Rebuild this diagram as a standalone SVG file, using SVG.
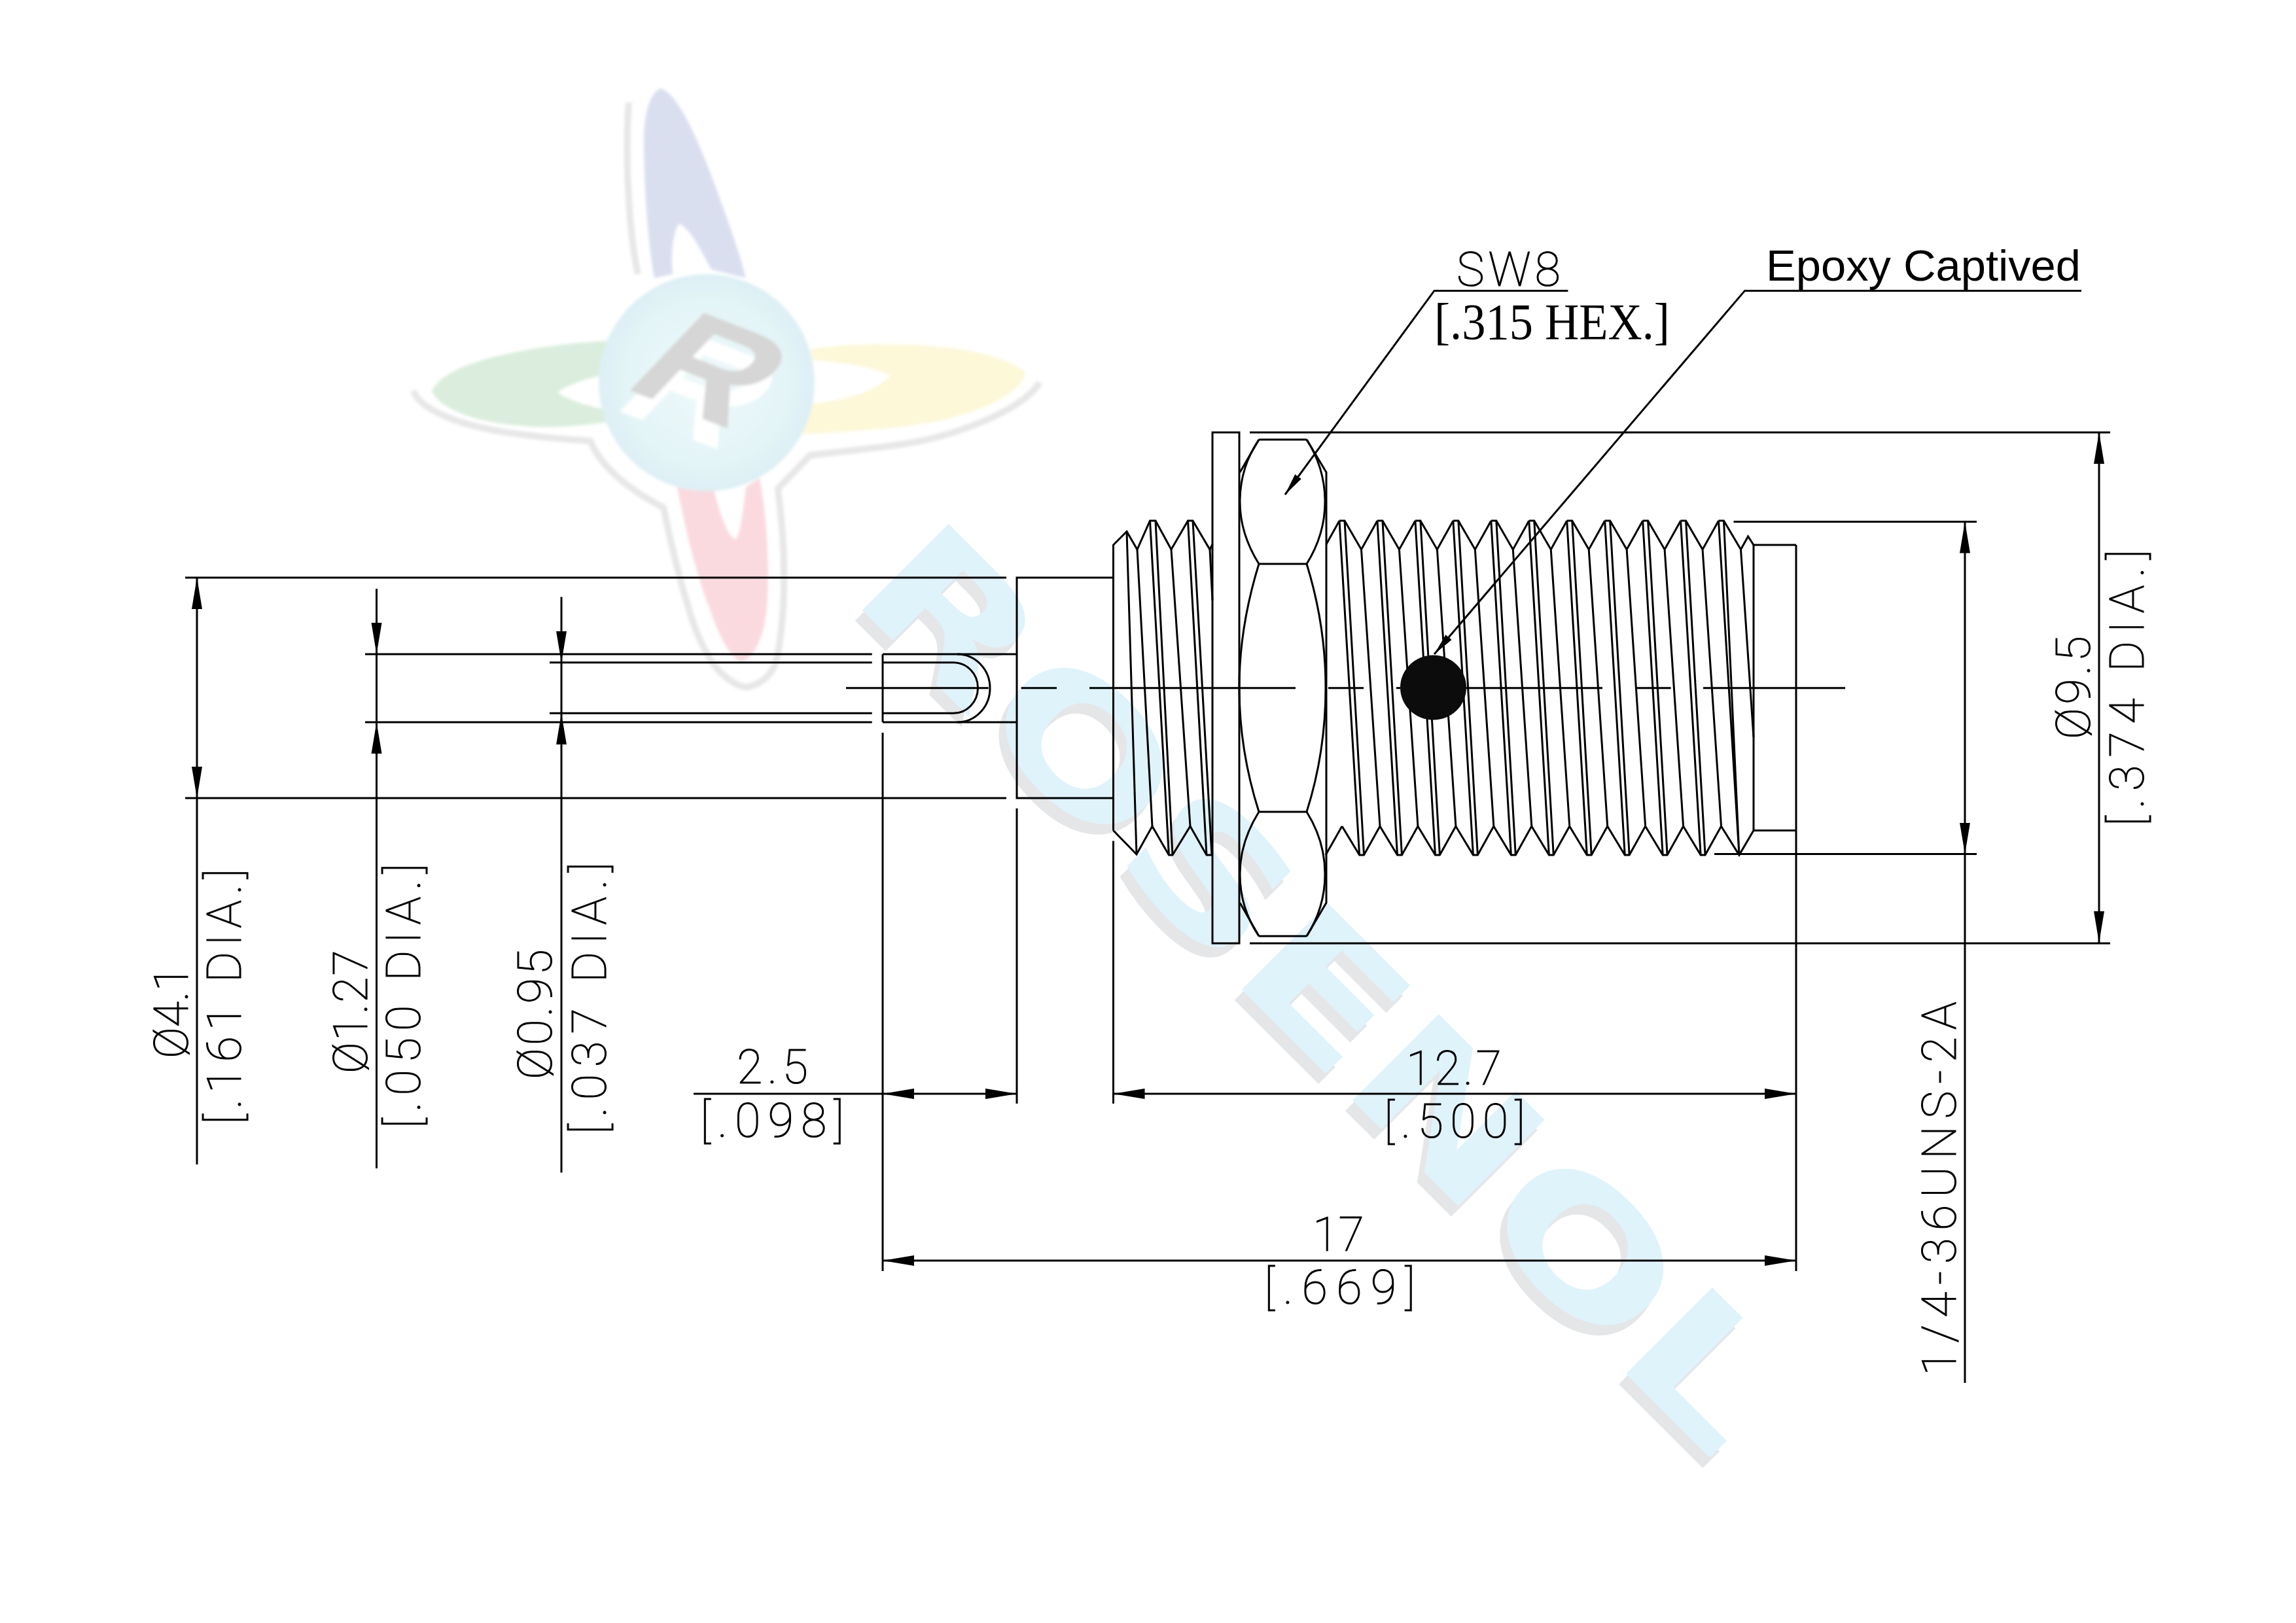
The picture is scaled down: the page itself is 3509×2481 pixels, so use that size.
<svg xmlns="http://www.w3.org/2000/svg" width="3509" height="2481" viewBox="0 0 3509 2481">
<style>
.l{fill:none;stroke:#000;stroke-width:3;stroke-linejoin:miter}
.d{fill:none;stroke:#000;stroke-width:3}
.a{marker-end:url(#ah);marker-start:url(#ah)}
.e{marker-end:url(#ah)}
.cad{font-family:"Roboto","Liberation Sans",sans-serif;font-weight:100;font-size:72px;fill:#000;stroke:#000;stroke-width:1.1}
.wm{font-family:"DejaVu Sans",sans-serif;font-weight:700;font-size:256px}
.lr{font-family:"Liberation Sans",sans-serif;font-weight:700;font-size:240px}
</style>
<defs>
<marker id="ah" markerUnits="userSpaceOnUse" markerWidth="50" markerHeight="18" refX="48" refY="9" orient="auto-start-reverse"><path d="M48 9L0 1V17Z" fill="#000"/></marker>
<marker id="as" markerUnits="userSpaceOnUse" markerWidth="36" markerHeight="14" refX="34" refY="7" orient="auto"><path d="M34 7L0 1V13Z" fill="#000"/></marker>
<radialGradient id="ball" cx="50%" cy="50%" r="52%"><stop offset="0" stop-color="#eef9fa"/><stop offset=".75" stop-color="#e3f4f7"/><stop offset="1" stop-color="#dceff4"/></radialGradient>
<filter id="soft" x="-5%" y="-5%" width="110%" height="110%"><feGaussianBlur stdDeviation="2"/></filter>
<g id="pitch" class="l"><path d="M2047 796H2055L2080.5 840L2105 796M2047 796L2077.6 1307M2055 796L2084.5 1307M2080.5 840L2109 1263M2051 1263L2077.6 1307H2084.5L2109 1263"/></g>
</defs>
<rect width="3509" height="2481" fill="#fff"/>
<g id="watermark-logo" filter="url(#soft)">
<g fill="none" stroke="#e7e7e7" stroke-width="10"><path d="M961 157C955 230 960 350 975 419"/><path d="M632 597C640 625 700 650 775 661C820 668 870 672 902 674C915 705 945 740 1014 776C1025 830 1040 890 1056 942C1070 985 1090 1020 1105 1031C1120 1045 1135 1052 1144 1050C1165 1045 1180 1030 1186 1012C1200 950 1203 850 1189 750"/><path d="M1186 750L1238 696C1290 690 1330 686 1372 680C1450 670 1560 630 1589 585"/></g>
<path d="M1010 135C1040 145 1075 235 1091 279C1110 330 1130 385 1140 425L1087 412C1070 380 1055 350 1038 342C1028 355 1025 390 1028 419L1000 425C990 370 984 280 984 215C984 170 995 140 1010 135Z" fill="#dadff0"/>
<path d="M1035 744C1045 800 1065 880 1084 929C1098 970 1115 1005 1133 1012C1155 1005 1168 970 1172 929C1177 870 1172 790 1161 731L1140 744C1135 790 1130 824 1123 824C1112 820 1098 780 1091 747Z" fill="#fadadf"/>
<path d="M660 597C675 570 720 550 810 534C850 527 890 523 930 521L916 575C890 580 865 590 852 600C870 612 900 622 930 626L930 645C890 650 850 655 810 652C730 648 670 625 660 597Z" fill="#dbeedd"/>
<path d="M1568 569C1530 540 1450 527 1372 527C1320 525 1280 528 1238 534L1242 550C1290 555 1335 560 1361 575C1335 600 1290 612 1242 617L1221 664C1300 660 1380 655 1442 642C1510 625 1560 600 1568 569Z" fill="#fdf8d8"/>
<ellipse cx="1080" cy="585" rx="165" ry="166" fill="url(#ball)"/>
<text class="lr" fill="#fff" transform="matrix(.98 .38 -.685 .72 932 623)">R</text>
<text class="lr" fill="#d6d6d6" transform="matrix(.98 .38 -.685 .72 947 591)">R</text>
</g>
<g id="watermark-text">
<text class="wm" fill="#e4e6e8" transform="translate(1284 926) rotate(45)" textLength="1874" lengthAdjust="spacingAndGlyphs">ROSENOL</text>
<text class="wm" fill="#dff3fb" transform="translate(1295 910) rotate(45)" textLength="1874" lengthAdjust="spacingAndGlyphs">ROSENOL</text>
</g>
<g id="pin" class="l">
<path d="M1349 1000V1104"/>
<path d="M1349 1000H1554M1349 1104H1554"/>
<path d="M1463 1000A50 52 0 0 1 1463 1104"/>
<path d="M1349 1012.7H1457A37.5 38.8 0 0 1 1457 1090.3H1349"/>
<path d="M558 1000H1332.7M558 1104H1332.7M840 1012.7H1332.7M840 1090.3H1332.7"/>
</g>
<g id="rear-body" class="l">
<path d="M1538 883H283M1538 1220H283"/>
<path d="M1701.5 883H1554V1220H1701.5"/>
<path d="M1701.5 1269.5V833L1722 812.5L1738 840L1757.5 796H1766L1790 840L1815.5 796H1823L1849 840L1853 832"/>
<path d="M1701.5 1269.5L1737 1306L1761 1263L1786.4 1307H1792L1819 1263L1844 1307H1852"/>
<path d="M1722 812.5L1737 1306M1738 840L1761 1263M1757.5 796L1786.4 1307M1766 796L1792 1307M1790 840L1819 1263M1815.5 796L1844 1307M1823 796L1852 1307M1849 840L1853 918"/>
</g>
<g id="washer"><rect class="l" x="1853" y="661" width="41" height="781"/></g>
<g id="hex-nut" class="l">
<path d="M1924 672H1997M1924 862H1997M1924 1241H1997M1924 1431H1997"/>
<path d="M1924 672L1895 722M1997 672L2027 722V1380L1997 1431M1924 1431L1895 1380"/>
<path d="M1924 862C1904 830 1895 800 1895 767C1895 730 1905 700 1924 672"/>
<path d="M1997 862C2017 830 2025 800 2025 767C2025 730 2015 700 1997 672"/>
<path d="M1924 862C1903 930 1894 990 1894 1051C1894 1112 1903 1175 1924 1241"/>
<path d="M1997 862C2018 930 2026 990 2026 1051C2026 1112 2018 1175 1997 1241"/>
<path d="M1924 1241C1904 1273 1895 1303 1895 1336C1895 1373 1905 1403 1924 1431"/>
<path d="M1997 1241C2017 1273 2025 1303 2025 1336C2025 1373 2015 1403 1997 1431"/>
</g>
<g id="front-thread">
<path class="l" d="M2027 832L2047 796M2026 1307L2051 1263"/>
<use href="#pitch"/><use href="#pitch" x="57.95"/><use href="#pitch" x="115.9"/><use href="#pitch" x="173.85"/><use href="#pitch" x="231.8"/><use href="#pitch" x="289.75"/><use href="#pitch" x="347.7"/><use href="#pitch" x="405.65"/><use href="#pitch" x="463.6"/><use href="#pitch" x="521.55"/>
<path class="l" d="M2626.5 796H2634.5L2660.5 840L2671.6 820L2680 833M2626.5 796L2658 1307M2634.5 796L2658 1307M2660.5 840L2680 1127M2630.5 1263L2658 1307L2680 1269.5"/>
</g>
<g id="front-body"><path class="l" d="M2680 1269.5V833H2745M2680 1269.5H2745"/></g>
<g id="epoxy"><ellipse cx="2190.5" cy="1051" rx="50.5" ry="49.5" fill="#0c0c0c"/></g>
<g id="centerline" class="d"><path d="M1293 1051.7H1510.7M1560.7 1051.7H1615M1665 1051.7H1980M2030 1051.7H2084M2134 1051.7H2140M2241 1051.7H2449M2500.8 1051.7H2553.6M2603 1051.7H2820"/></g>
<g id="connectors">
<path class="d" d="M2745 833V1943M1349 1120V1943M1554 1235.7V1687M1701.5 1285.5V1687"/>
<path class="d" d="M1910 661H3225M1910 1442H3225M2649.5 797.5H3021M2620 1305.5H3021"/>
<line class="d a" x1="301" y1="883" x2="301" y2="1220"/><path class="d" d="M301 1220V1780"/>
<path class="d e" d="M575.5 900V1000"/><path class="d e" d="M575.5 1786V1104"/><path class="d" d="M575.5 1000V1104"/>
<path class="d e" d="M858 912.5V1012.7"/><path class="d e" d="M858 1792.6V1090.4"/><path class="d" d="M858 1012.7V1090.4"/>
<path class="d" d="M1060 1672H1349"/>
<line class="d a" x1="1349" y1="1672" x2="1554" y2="1672"/>
<line class="d a" x1="1701.5" y1="1672" x2="2745" y2="1672"/>
<line class="d a" x1="1349" y1="1927" x2="2745" y2="1927"/>
<line class="d a" x1="3003" y1="797.5" x2="3003" y2="1305.5"/><path class="d" d="M3003 1305.5V2114"/>
<line class="d a" x1="3208" y1="661" x2="3208" y2="1441"/>
<path class="d" marker-end="url(#as)" d="M2396.4 444.4H2192L1964 756"/>
<path class="d" marker-end="url(#as)" d="M3181 444.4H2666.6L2192 1000"/>
</g>
<g id="labels">
<text class="cad" transform="translate(286.7 1618) rotate(-90)" textLength="142" lengthAdjust="spacing">Ø4.1</text>
<text class="cad" transform="translate(368 1719) rotate(-90)" textLength="391" lengthAdjust="spacing">[.161 DIA.]</text>
<text class="cad" transform="translate(560.7 1641) rotate(-90)" textLength="189" lengthAdjust="spacing">Ø1.27</text>
<text class="cad" transform="translate(642 1725) rotate(-90)" textLength="405" lengthAdjust="spacing">[.050 DIA.]</text>
<text class="cad" transform="translate(843 1650) rotate(-90)" textLength="199" lengthAdjust="spacing">Ø0.95</text>
<text class="cad" transform="translate(925.5 1734) rotate(-90)" textLength="416" lengthAdjust="spacing">[.037 DIA.]</text>
<text class="cad" transform="translate(3194 1130) rotate(-90)" textLength="158" lengthAdjust="spacing">Ø9.5</text>
<text class="cad" transform="translate(3275.5 1263) rotate(-90)" textLength="423" lengthAdjust="spacing">[.374 DIA.]</text>
<text class="cad" transform="translate(2989 2103) rotate(-90)" textLength="572" lengthAdjust="spacing">1/4-36UNS-2A</text>
<text class="cad" x="2226" y="437" textLength="159" lengthAdjust="spacing">SW8</text>
<text class="cad" x="1126" y="1656" textLength="109" lengthAdjust="spacing">2.5</text>
<text class="cad" x="1070" y="1738" textLength="220" lengthAdjust="spacing">[.098]</text>
<text class="cad" x="2149" y="1658" textLength="146" lengthAdjust="spacing">12.7</text>
<text class="cad" x="2115" y="1739" textLength="216" lengthAdjust="spacing">[.500]</text>
<text class="cad" x="2006" y="1912" textLength="79" lengthAdjust="spacing">17</text>
<text class="cad" x="1932" y="1993" textLength="231" lengthAdjust="spacing">[.669]</text>
<text x="2192" y="518" font-family="'Liberation Serif',serif" font-size="78" textLength="360" lengthAdjust="spacingAndGlyphs">[.315 HEX.]</text>
<text x="2699" y="429" font-family="'Liberation Sans',sans-serif" font-size="66" textLength="481" lengthAdjust="spacingAndGlyphs">Epoxy Captived</text>
</g>
</svg>
